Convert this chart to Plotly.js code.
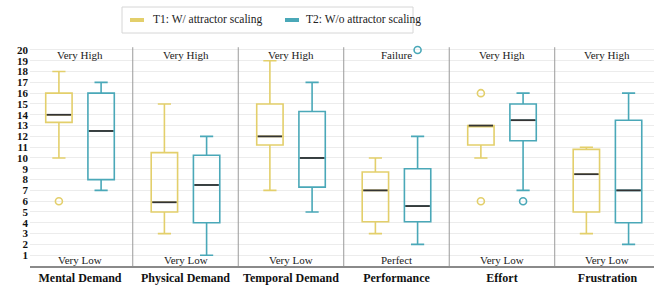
<!DOCTYPE html>
<html>
<head>
<meta charset="utf-8">
<script src="https://cdn.plot.ly/plotly-3.0.1.min.js"></script>
<style>html,body{margin:0;padding:0;background:#fff;}#chart{width:654px;height:286px;}</style>
</head>
<body>
<div id="chart"></div>
<script>
const categories = ['Mental Demand','Physical Demand','Temporal Demand','Performance','Effort','Frustration'];
const topLabels = ['Very High','Very High','Very High','Failure','Very High','Very High'];
const bottomLabels = ['Very Low','Very Low','Very Low','Perfect','Very Low','Very Low'];
const yTicks = [1,2,3,4,5,6,7,8,9,10,11,12,13,14,15,16,17,18,19,20];
const seriesNames = ['T1: W/ attractor scaling', 'T2: W/o attractor scaling'];

const t1Lower = [10, 3, 7, 3, 10, 3];
const t1Q1    = [13.3, 5, 11.2, 4.1, 11.2, 5];
const t1Med   = [14, 5.9, 12, 7, 13, 8.5];
const t1Q3    = [16, 10.5, 15, 8.7, 13, 10.8];
const t1Upper = [18, 15, 19, 10, 13, 11];
const t1OutCat = [0, 4, 4];
const t1OutVal = [6, 16, 6];

const t2Lower = [7, 1, 5, 2, 7, 2];
const t2Q1    = [8, 4, 7.3, 4.1, 11.6, 4];
const t2Med   = [12.5, 7.5, 10, 5.55, 13.5, 7];
const t2Q3    = [16, 10.25, 14.3, 9, 15, 13.5];
const t2Upper = [17, 12, 17, 12, 16, 16];
const t2OutCat = [3, 4];
const t2OutVal = [20, 6];

const C1 = '#E3CF6B', C2 = '#4AA8B8';
const OFF = 0.2, BW = 0.25;
const serif = 'Liberation Serif';

function boxTrace(name, color, off, lo, q1, med, q3, up) {
  return {
    type: 'box', name: name, showlegend: false,
    x: categories.map((c, i) => i + off),
    lowerfence: lo, q1: q1, median: med, q3: q3, upperfence: up,
    width: BW, whiskerwidth: 0.5,
    line: {color: color, width: 1.6}, fillcolor: 'rgba(255,255,255,0)',
    hoverinfo: 'skip'
  };
}
function medianTrace(off, med) {
  const xs = [], ys = [];
  med.forEach((m, i) => { xs.push(i + off - BW/2 + 0.01, i + off + BW/2 - 0.01, null); ys.push(m, m, null); });
  return {type: 'scatter', mode: 'lines', x: xs, y: ys, line: {color: '#333', width: 1.8}, showlegend: false, hoverinfo: 'skip'};
}
function outTrace(color, off, cats, vals) {
  return {type: 'scatter', mode: 'markers', x: cats.map(c => c + off), y: vals,
    marker: {symbol: 'circle-open', size: 7, color: color, line: {width: 1.6, color: color}},
    showlegend: false, hoverinfo: 'skip'};
}

const data = [
  boxTrace('T1', C1, -OFF, t1Lower, t1Q1, t1Med, t1Q3, t1Upper),
  boxTrace('T2', C2, OFF, t2Lower, t2Q1, t2Med, t2Q3, t2Upper),
  medianTrace(-OFF, t1Med), medianTrace(OFF, t2Med),
  outTrace(C1, -OFF, t1OutCat, t1OutVal), outTrace(C2, OFF, t2OutCat, t2OutVal)
];

// pixel -> paper helpers for the custom legend
const ML = 30, MT = 45, PW = 624, PH = 221;
const px = v => (v - ML) / PW;
const py = v => (MT + PH - v) / PH;

const shapes = [];
for (let i = 0; i < categories.length - 1; i++) {
  shapes.push({type: 'line', xref: 'x', yref: 'paper', x0: i + 0.5, x1: i + 0.5, y0: 0, y1: 0.99,
    line: {color: '#9a9a9a', width: 1}, layer: 'above'});
}
shapes.push({type: 'rect', xref: 'paper', yref: 'paper', x0: px(122), x1: px(413), y0: py(33), y1: py(7),
  line: {color: '#d6d6d6', width: 1}, fillcolor: 'rgba(0,0,0,0)'});
shapes.push({type: 'line', xref: 'paper', yref: 'paper', x0: px(130), x1: px(144), y0: py(20), y1: py(20),
  line: {color: C1, width: 4}});
shapes.push({type: 'line', xref: 'paper', yref: 'paper', x0: px(285), x1: px(299), y0: py(20), y1: py(20),
  line: {color: C2, width: 4}});

const annotations = [];
categories.forEach((c, i) => {
  annotations.push({x: i, y: 19.55, xref: 'x', yref: 'y', text: topLabels[i], showarrow: false,
    font: {family: serif, size: 11, color: '#222'}});
  annotations.push({x: i, y: 0.55, xref: 'x', yref: 'y', text: bottomLabels[i], showarrow: false,
    font: {family: serif, size: 11, color: '#222'}});
});
annotations.push({xref: 'paper', yref: 'paper', x: px(151), y: py(20), xanchor: 'left', yanchor: 'middle',
  text: seriesNames[0], showarrow: false, font: {family: serif, size: 11.5, color: '#222'}});
annotations.push({xref: 'paper', yref: 'paper', x: px(304), y: py(20), xanchor: 'left', yanchor: 'middle',
  text: seriesNames[1], showarrow: false, font: {family: serif, size: 11.5, color: '#222'}});

const layout = {
  width: 654, height: 286,
  margin: {l: ML, r: 0, t: MT, b: 20},
  paper_bgcolor: '#fff', plot_bgcolor: '#fff',
  font: {family: serif},
  showlegend: false,
  xaxis: {range: [-0.474, 5.441], tickvals: categories.map((c, i) => i), ticktext: categories,
    tickangle: 0, automargin: false,
    showgrid: false, zeroline: false, showline: true, linecolor: '#8a8a8a', linewidth: 2,
    ticks: '', tickfont: {family: serif, size: 12, color: '#111', weight: 'bold'}, fixedrange: true},
  yaxis: {range: [0, 20.46], tickvals: yTicks, ticktext: yTicks.map(String),
    showgrid: true, gridcolor: '#ececec', gridwidth: 1, zeroline: false, showline: false,
    ticks: '', ticklabelstandoff: 1, tickfont: {family: serif, size: 11, color: '#111', weight: 'bold'}, fixedrange: true},
  shapes: shapes, annotations: annotations
};

Plotly.newPlot('chart', data, layout, {staticPlot: true, displayModeBar: false});
</script>
</body>
</html>
